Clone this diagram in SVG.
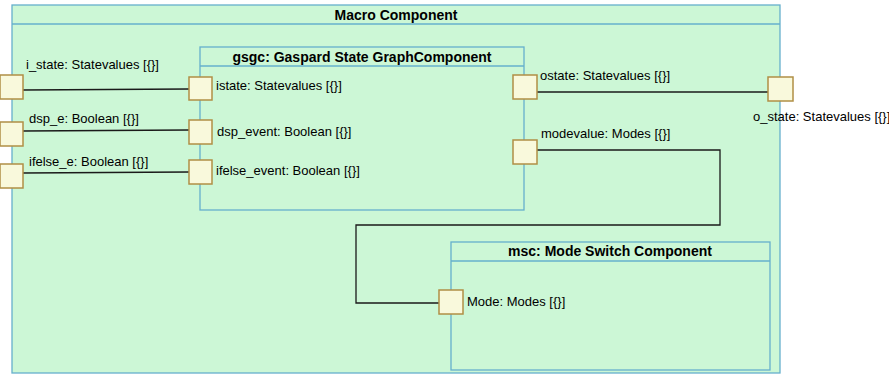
<svg xmlns="http://www.w3.org/2000/svg" width="889" height="374" viewBox="0 0 889 374">
<style>
.box{fill:#ccf7d6;stroke:#66b0cc;stroke-width:1.3}
.hdr{fill:none;stroke:#66b0cc;stroke-width:1.3}
.port{fill:#f9f9dc;stroke:#b08f45;stroke-width:1.5}
.conn{fill:none;stroke:#1a1a1a;stroke-width:1.3}
.t{font-family:"Liberation Sans",Arial,sans-serif;font-size:13px;fill:#000}
.b{font-family:"Liberation Sans",Arial,sans-serif;font-size:14px;font-weight:bold;fill:#000;text-anchor:middle}
</style>
<rect width="889" height="374" fill="#fff"/>
<g id="macro">
<rect class="box" x="12" y="5" width="768" height="368"/>
<line class="hdr" x1="12" y1="24" x2="780" y2="24"/>
<text class="b" x="396" y="19.5">Macro Component</text>
</g>
<g id="gsgc">
<rect class="box" x="200" y="47" width="324" height="163"/>
<line class="hdr" x1="200" y1="66" x2="524" y2="66"/>
<text class="b" x="362" y="61.5">gsgc: Gaspard State GraphComponent</text>
</g>
<g id="msc">
<rect class="box" x="451" y="242" width="319" height="128"/>
<line class="hdr" x1="451" y1="261" x2="770" y2="261"/>
<text class="b" x="610" y="255.5">msc: Mode Switch Component</text>
</g>
<g id="connectors">
<polyline class="conn" points="23,90 189,89"/>
<polyline class="conn" points="23,131 189,130"/>
<polyline class="conn" points="23,173 189,172"/>
<polyline class="conn" points="537,92 768,92"/>
<polyline class="conn" points="537,150 720,150 720,225 356,225 356,303 439,303"/>
</g>
<g id="port-i_state">
<rect class="port" x="0" y="75" width="23" height="24"/>
<text class="t" x="26" y="69">i_state: Statevalues [{}]</text>
</g>
<g id="port-dsp_e">
<rect class="port" x="0" y="122" width="23" height="24"/>
<text class="t" x="29" y="123">dsp_e: Boolean [{}]</text>
</g>
<g id="port-ifelse_e">
<rect class="port" x="0" y="164" width="23" height="24"/>
<text class="t" x="29" y="166">ifelse_e: Boolean [{}]</text>
</g>
<g id="port-istate">
<rect class="port" x="189" y="77" width="23" height="23"/>
<text class="t" x="216" y="90">istate: Statevalues [{}]</text>
</g>
<g id="port-dsp_event">
<rect class="port" x="189" y="120" width="23" height="24"/>
<text class="t" x="217" y="136">dsp_event: Boolean [{}]</text>
</g>
<g id="port-ifelse_event">
<rect class="port" x="189" y="160" width="23" height="24"/>
<text class="t" x="216" y="175">ifelse_event: Boolean [{}]</text>
</g>
<g id="port-ostate">
<rect class="port" x="513" y="75" width="24" height="24"/>
<text class="t" x="540" y="80">ostate: Statevalues [{}]</text>
</g>
<g id="port-modevalue">
<rect class="port" x="513" y="140" width="24" height="24"/>
<text class="t" x="541" y="138">modevalue: Modes [{}]</text>
</g>
<g id="port-o_state">
<rect class="port" x="768" y="77" width="25" height="24"/>
<text class="t" x="753" y="121">o_state: Statevalues [{}]</text>
</g>
<g id="port-mode">
<rect class="port" x="439" y="290" width="24" height="24"/>
<text class="t" x="467" y="306">Mode: Modes [{}]</text>
</g>
</svg>
